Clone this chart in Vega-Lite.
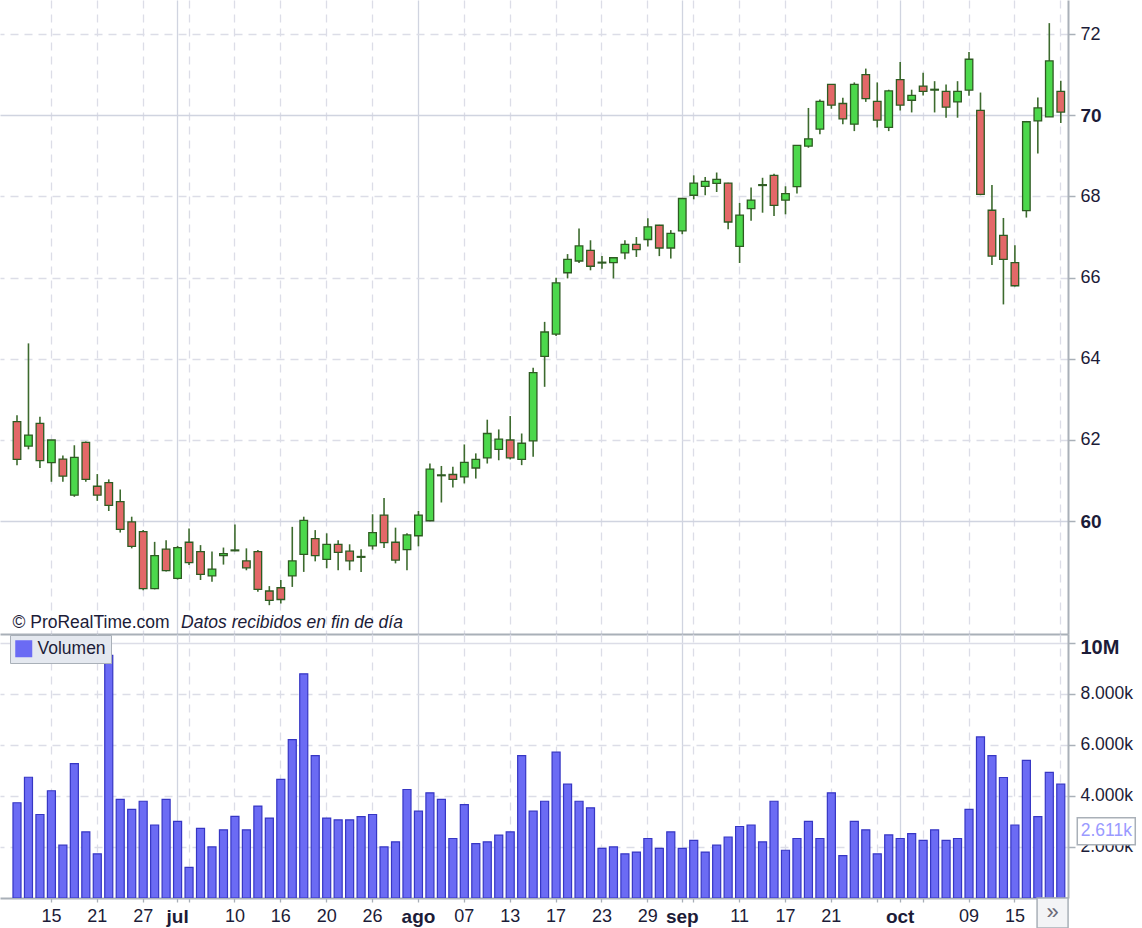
{
  "$schema": "https://vega.github.io/schema/vega-lite/v6.json",
  "padding": 0,
  "background": "white",
  "spacing": 0,
  "config": {
    "view": {"stroke": null},
    "font": "Liberation Sans",
    "axis": {"labelFont": "Liberation Sans", "labelOverlap": false, "labelBound": false}
  },
  "datasets": {
    "ohlc": [
      {"d":"2018-06-12","o":62.45,"h":62.61,"l":61.38,"c":61.52,"v":3730000},
      {"d":"2018-06-13","o":61.85,"h":64.38,"l":61.77,"c":62.12,"v":4730000},
      {"d":"2018-06-14","o":62.41,"h":62.57,"l":61.31,"c":61.49,"v":3270000},
      {"d":"2018-06-15","o":61.44,"h":62.0,"l":60.97,"c":62.0,"v":4200000},
      {"d":"2018-06-18","o":61.53,"h":61.62,"l":60.97,"c":61.11,"v":2070000},
      {"d":"2018-06-19","o":60.64,"h":61.87,"l":60.6,"c":61.57,"v":5260000},
      {"d":"2018-06-20","o":61.94,"h":61.96,"l":60.97,"c":61.03,"v":2590000},
      {"d":"2018-06-21","o":60.86,"h":61.16,"l":60.5,"c":60.64,"v":1730000},
      {"d":"2018-06-22","o":60.95,"h":61.03,"l":60.25,"c":60.39,"v":9500000},
      {"d":"2018-06-25","o":60.48,"h":60.78,"l":59.72,"c":59.8,"v":3860000},
      {"d":"2018-06-26","o":59.98,"h":60.11,"l":59.33,"c":59.38,"v":3470000},
      {"d":"2018-06-27","o":59.74,"h":59.78,"l":58.3,"c":58.34,"v":3790000},
      {"d":"2018-06-28","o":58.34,"h":59.49,"l":58.32,"c":59.15,"v":2860000},
      {"d":"2018-06-29","o":59.31,"h":59.53,"l":58.76,"c":58.78,"v":3860000},
      {"d":"2018-07-02","o":58.59,"h":59.39,"l":58.56,"c":59.35,"v":3000000},
      {"d":"2018-07-03","o":59.48,"h":59.82,"l":58.92,"c":58.98,"v":1200000},
      {"d":"2018-07-05","o":59.25,"h":59.41,"l":58.55,"c":58.69,"v":2730000},
      {"d":"2018-07-06","o":58.65,"h":59.25,"l":58.51,"c":58.82,"v":2000000},
      {"d":"2018-07-09","o":59.15,"h":59.35,"l":58.93,"c":59.2,"v":2670000},
      {"d":"2018-07-10","o":59.27,"h":59.92,"l":59.26,"c":59.29,"v":3200000},
      {"d":"2018-07-11","o":59.02,"h":59.33,"l":58.79,"c":58.85,"v":2670000},
      {"d":"2018-07-12","o":59.25,"h":59.29,"l":58.26,"c":58.32,"v":3600000},
      {"d":"2018-07-13","o":58.28,"h":58.4,"l":57.93,"c":58.05,"v":3130000},
      {"d":"2018-07-16","o":58.36,"h":58.55,"l":57.97,"c":58.07,"v":4650000},
      {"d":"2018-07-17","o":58.65,"h":59.86,"l":58.38,"c":59.02,"v":6200000},
      {"d":"2018-07-18","o":59.18,"h":60.11,"l":58.75,"c":60.02,"v":8780000},
      {"d":"2018-07-19","o":59.57,"h":59.78,"l":59.01,"c":59.15,"v":5580000},
      {"d":"2018-07-20","o":59.06,"h":59.7,"l":58.84,"c":59.43,"v":3130000},
      {"d":"2018-07-23","o":59.43,"h":59.53,"l":58.79,"c":59.23,"v":3060000},
      {"d":"2018-07-24","o":59.26,"h":59.43,"l":58.79,"c":59.02,"v":3060000},
      {"d":"2018-07-25","o":59.11,"h":59.31,"l":58.75,"c":59.13,"v":3190000},
      {"d":"2018-07-26","o":59.39,"h":60.17,"l":59.3,"c":59.72,"v":3270000},
      {"d":"2018-07-27","o":60.15,"h":60.57,"l":59.34,"c":59.47,"v":2000000},
      {"d":"2018-07-30","o":59.48,"h":59.84,"l":58.96,"c":59.04,"v":2200000},
      {"d":"2018-07-31","o":59.3,"h":59.7,"l":58.79,"c":59.66,"v":4250000},
      {"d":"2018-08-01","o":59.64,"h":60.25,"l":59.38,"c":60.15,"v":3400000},
      {"d":"2018-08-02","o":60.01,"h":61.42,"l":60.0,"c":61.28,"v":4120000},
      {"d":"2018-08-03","o":61.12,"h":61.36,"l":60.46,"c":61.14,"v":3860000},
      {"d":"2018-08-06","o":61.15,"h":61.34,"l":60.83,"c":61.03,"v":2330000},
      {"d":"2018-08-07","o":61.09,"h":61.89,"l":60.93,"c":61.45,"v":3660000},
      {"d":"2018-08-08","o":61.31,"h":61.67,"l":61.05,"c":61.52,"v":2130000},
      {"d":"2018-08-09","o":61.56,"h":62.5,"l":61.42,"c":62.16,"v":2200000},
      {"d":"2018-08-10","o":61.77,"h":62.26,"l":61.5,"c":62.02,"v":2460000},
      {"d":"2018-08-13","o":62.0,"h":62.59,"l":61.52,"c":61.56,"v":2590000},
      {"d":"2018-08-14","o":61.52,"h":62.16,"l":61.38,"c":61.92,"v":5580000},
      {"d":"2018-08-15","o":61.98,"h":63.78,"l":61.59,"c":63.66,"v":3400000},
      {"d":"2018-08-16","o":64.06,"h":64.91,"l":63.31,"c":64.66,"v":3790000},
      {"d":"2018-08-17","o":64.61,"h":66.0,"l":64.56,"c":65.87,"v":5710000},
      {"d":"2018-08-20","o":66.12,"h":66.58,"l":65.98,"c":66.45,"v":4460000},
      {"d":"2018-08-21","o":66.41,"h":67.21,"l":66.36,"c":66.78,"v":3790000},
      {"d":"2018-08-22","o":66.67,"h":66.92,"l":66.18,"c":66.28,"v":3530000},
      {"d":"2018-08-23","o":66.36,"h":66.53,"l":66.22,"c":66.38,"v":1940000},
      {"d":"2018-08-24","o":66.37,"h":66.5,"l":65.98,"c":66.49,"v":2000000},
      {"d":"2018-08-27","o":66.61,"h":66.92,"l":66.45,"c":66.82,"v":1730000},
      {"d":"2018-08-28","o":66.82,"h":67.0,"l":66.51,"c":66.69,"v":1800000},
      {"d":"2018-08-29","o":66.94,"h":67.46,"l":66.77,"c":67.25,"v":2330000},
      {"d":"2018-08-30","o":67.29,"h":67.3,"l":66.53,"c":66.73,"v":1940000},
      {"d":"2018-08-31","o":66.73,"h":67.17,"l":66.47,"c":67.09,"v":2590000},
      {"d":"2018-09-04","o":67.15,"h":67.96,"l":67.07,"c":67.95,"v":1940000},
      {"d":"2018-09-05","o":68.03,"h":68.52,"l":67.93,"c":68.33,"v":2260000},
      {"d":"2018-09-06","o":68.25,"h":68.48,"l":68.03,"c":68.37,"v":1800000},
      {"d":"2018-09-07","o":68.32,"h":68.59,"l":68.11,"c":68.42,"v":2070000},
      {"d":"2018-09-10","o":68.33,"h":68.34,"l":67.19,"c":67.37,"v":2390000},
      {"d":"2018-09-11","o":66.77,"h":67.84,"l":66.36,"c":67.54,"v":2800000},
      {"d":"2018-09-12","o":67.7,"h":68.22,"l":67.4,"c":67.91,"v":2860000},
      {"d":"2018-09-13","o":68.27,"h":68.46,"l":67.6,"c":68.29,"v":2200000},
      {"d":"2018-09-14","o":68.52,"h":68.56,"l":67.52,"c":67.78,"v":3790000},
      {"d":"2018-09-17","o":67.91,"h":68.25,"l":67.56,"c":68.07,"v":1870000},
      {"d":"2018-09-18","o":68.24,"h":69.26,"l":68.07,"c":69.26,"v":2330000},
      {"d":"2018-09-19","o":69.24,"h":70.18,"l":69.2,"c":69.42,"v":3000000},
      {"d":"2018-09-20","o":69.66,"h":70.39,"l":69.53,"c":70.34,"v":2330000},
      {"d":"2018-09-21","o":70.76,"h":70.77,"l":70.16,"c":70.25,"v":4120000},
      {"d":"2018-09-24","o":70.29,"h":70.43,"l":69.78,"c":69.91,"v":1660000},
      {"d":"2018-09-25","o":69.78,"h":70.81,"l":69.61,"c":70.76,"v":3000000},
      {"d":"2018-09-26","o":71.0,"h":71.15,"l":70.33,"c":70.41,"v":2670000},
      {"d":"2018-09-27","o":70.34,"h":70.81,"l":69.7,"c":69.88,"v":1730000},
      {"d":"2018-09-28","o":69.7,"h":70.63,"l":69.61,"c":70.6,"v":2470000},
      {"d":"2018-10-01","o":70.88,"h":71.31,"l":70.12,"c":70.25,"v":2330000},
      {"d":"2018-10-02","o":70.37,"h":70.63,"l":70.07,"c":70.49,"v":2520000},
      {"d":"2018-10-03","o":70.72,"h":71.05,"l":70.49,"c":70.59,"v":2260000},
      {"d":"2018-10-04","o":70.62,"h":70.84,"l":70.07,"c":70.64,"v":2670000},
      {"d":"2018-10-05","o":70.59,"h":70.76,"l":69.94,"c":70.2,"v":2260000},
      {"d":"2018-10-08","o":70.33,"h":70.84,"l":69.94,"c":70.59,"v":2330000},
      {"d":"2018-10-09","o":70.62,"h":71.56,"l":70.48,"c":71.38,"v":3470000},
      {"d":"2018-10-10","o":70.12,"h":70.56,"l":68.03,"c":68.05,"v":6310000},
      {"d":"2018-10-11","o":67.66,"h":68.28,"l":66.31,"c":66.53,"v":5580000},
      {"d":"2018-10-12","o":67.04,"h":67.47,"l":65.34,"c":66.45,"v":4720000},
      {"d":"2018-10-15","o":66.37,"h":66.8,"l":65.78,"c":65.8,"v":2860000},
      {"d":"2018-10-16","o":67.65,"h":69.86,"l":67.48,"c":69.84,"v":5390000},
      {"d":"2018-10-17","o":69.86,"h":70.44,"l":69.06,"c":70.18,"v":3190000},
      {"d":"2018-10-18","o":69.96,"h":72.27,"l":69.96,"c":71.34,"v":4920000},
      {"d":"2018-10-19","o":70.59,"h":70.85,"l":69.81,"c":70.08,"v":4460000}
    ]
  },
  "vconcat": [
    {
      "width": 1068,
      "height": 634,
      "data": {"name": "ohlc"},
      "layer": [
        {
          "mark": {"type": "rule", "color": "#3d6b2e", "strokeWidth": 1.6},
          "encoding": {
            "x": {
              "field": "d", "type": "ordinal",
              "scale": {"paddingInner": 0, "paddingOuter": 0.556, "align": 0.883},
              "axis": {
                "title": null, "labels": false, "ticks": false,
                "domain": true, "domainColor": "#a9b0b8", "domainWidth": 2,
                "grid": true, "bandPosition": 0.5,
                "values": ["2018-06-15","2018-06-21","2018-06-27","2018-07-02","2018-07-03","2018-07-10","2018-07-16","2018-07-20","2018-07-26","2018-08-01","2018-08-07","2018-08-13","2018-08-17","2018-08-23","2018-08-29","2018-09-04","2018-09-05","2018-09-11","2018-09-17","2018-09-21","2018-09-27","2018-10-01","2018-10-03","2018-10-09","2018-10-15","2018-10-19"],
                "gridColor": {"condition": {"test": "indexof(['2018-07-02','2018-08-01','2018-09-04','2018-10-01'], datum.value) >= 0", "value": "#d0d4e0"}, "value": "#dcdde7"},
                "gridDash": {"condition": {"test": "indexof(['2018-07-02','2018-08-01','2018-09-04','2018-10-01'], datum.value) >= 0", "value": []}, "value": [8, 6]},
                "gridWidth": 1.3
              }
            },
            "y": {
              "field": "l", "type": "quantitative",
              "scale": {"domain": [57.22, 72.84], "nice": false, "zero": false},
              "axis": {
                "orient": "right", "title": null,
                "values": [60, 62, 64, 66, 68, 70, 72],
                "domainColor": "#a9b0b8", "domainWidth": 2,
                "tickColor": "#a9b0b8", "tickSize": 7, "tickWidth": 1.5,
                "labelPadding": 5, "labelColor": "#1c1c38",
                "labelFontSize": {"condition": {"test": "datum.value % 10 == 0", "value": 19}, "value": 18},
                "labelFontWeight": {"condition": {"test": "datum.value % 10 == 0", "value": "bold"}, "value": "normal"},
                "grid": true, "gridWidth": 1.3,
                "gridColor": {"condition": {"test": "datum.value % 10 == 0", "value": "#d0d4e0"}, "value": "#dcdde7"},
                "gridDash": {"condition": {"test": "datum.value % 10 == 0", "value": []}, "value": [8, 6]}
              }
            },
            "y2": {"field": "h"}
          }
        },
        {
          "mark": {"type": "bar", "width": {"band": 0.66}, "stroke": "#2e5b22", "strokeWidth": 1.3},
          "encoding": {
            "x": {"field": "d", "type": "ordinal"},
            "y": {"field": "o", "type": "quantitative"},
            "y2": {"field": "c"},
            "fill": {"condition": {"test": "datum.c >= datum.o", "value": "#4cd84c"}, "value": "#e36868"}
          }
        },
        {
          "data": {"values": [{}]},
          "mark": {"type": "text", "text": "© ProRealTime.com", "align": "left", "baseline": "alphabetic", "fontSize": 17.5, "color": "#1c1c38", "xOffset": -4.5},
          "encoding": {
            "x": {"datum": "2018-06-12", "type": "ordinal"},
            "y": {"datum": 57.365, "type": "quantitative"}
          }
        },
        {
          "data": {"values": [{}]},
          "mark": {"type": "text", "text": "Datos recibidos en fin de día", "align": "left", "baseline": "alphabetic", "fontSize": 17.5, "fontStyle": "italic", "color": "#1c1c38", "xOffset": 3.5},
          "encoding": {
            "x": {"datum": "2018-07-02", "type": "ordinal"},
            "y": {"datum": 57.365, "type": "quantitative"}
          }
        }
      ]
    },
    {
      "width": 1068,
      "height": 264,
      "data": {"name": "ohlc"},
      "layer": [
        {
          "mark": {"type": "bar", "width": {"band": 0.7}, "stroke": "#3636c4", "strokeWidth": 1.2, "clip": true},
          "encoding": {
            "x": {
              "field": "d", "type": "ordinal",
              "scale": {"paddingInner": 0, "paddingOuter": 0.556, "align": 0.883},
              "axis": {
                "title": null, "labelAngle": 0,
                "domain": true, "domainColor": "#a9b0b8", "domainWidth": 2,
                "ticks": true, "tickColor": "#a9b0b8", "tickSize": 4, "tickWidth": 1.3,
                "labelPadding": 5, "labelColor": "#1c1c38",
                "bandPosition": 0.5,
                "values": ["2018-06-15","2018-06-21","2018-06-27","2018-07-02","2018-07-03","2018-07-10","2018-07-16","2018-07-20","2018-07-26","2018-08-01","2018-08-07","2018-08-13","2018-08-17","2018-08-23","2018-08-29","2018-09-04","2018-09-05","2018-09-11","2018-09-17","2018-09-21","2018-09-27","2018-10-01","2018-10-03","2018-10-09","2018-10-15","2018-10-19"],
                "labelExpr": "indexof(['2018-07-02','2018-08-01','2018-09-04','2018-10-01'], datum.value) >= 0 ? ['jul','ago','sep','oct'][indexof(['2018-07-02','2018-08-01','2018-09-04','2018-10-01'], datum.value)] : (indexof(['2018-07-03','2018-09-05','2018-09-27','2018-10-03','2018-10-19'], datum.value) >= 0 ? '' : substring(datum.value, 8, 10))",
                "labelFontSize": {"condition": {"test": "indexof(['2018-07-02','2018-08-01','2018-09-04','2018-10-01'], datum.value) >= 0", "value": 19}, "value": 18},
                "labelFontWeight": {"condition": {"test": "indexof(['2018-07-02','2018-08-01','2018-09-04','2018-10-01'], datum.value) >= 0", "value": "bold"}, "value": "normal"},
                "grid": true, "gridWidth": 1.3,
                "gridColor": {"condition": {"test": "indexof(['2018-07-02','2018-08-01','2018-09-04','2018-10-01'], datum.value) >= 0", "value": "#d0d4e0"}, "value": "#dcdde7"},
                "gridDash": {"condition": {"test": "indexof(['2018-07-02','2018-08-01','2018-09-04','2018-10-01'], datum.value) >= 0", "value": []}, "value": [8, 6]}
              }
            },
            "y": {
              "field": "v", "type": "quantitative",
              "scale": {"domain": [0, 10340000], "nice": false},
              "axis": {
                "orient": "right", "title": null, "labelOverlap": false,
                "values": [2000000, 4000000, 6000000, 8000000, 10000000],
                "labelExpr": "datum.value > 9999999 ? '10M' : (datum.value / 1000000) + '.000k'",
                "domainColor": "#a9b0b8", "domainWidth": 2,
                "tickColor": "#a9b0b8", "tickSize": 7, "tickWidth": 1.5,
                "labelPadding": 5, "labelColor": "#1c1c38",
                "labelFontSize": {"condition": {"test": "datum.value > 9999999", "value": 20}, "value": 17.5},
                "labelFontWeight": {"condition": {"test": "datum.value > 9999999", "value": "bold"}, "value": "normal"},
                "labelOffset": {"condition": {"test": "datum.value > 9999999", "value": 5}, "value": 0},
                "grid": true, "gridWidth": 1.3,
                "gridColor": "#dcdde7",
                "gridDash": {"condition": {"test": "datum.value > 9999999", "value": []}, "value": [8, 6]}
              }
            },
            "color": {
              "datum": "Volumen", "type": "nominal",
              "scale": {"range": ["#6b6bf4"]},
              "legend": {
                "title": null, "orient": "none", "legendX": 10, "legendY": 635,
                "fillColor": "#e4e8ef", "strokeColor": "#a9b0b8", "padding": 5,
                "symbolType": "square", "symbolSize": 289, "symbolStrokeWidth": 0,
                "labelFontSize": 17.5, "labelColor": "#1c1c38", "labelOffset": 5, "labelFont": "Liberation Sans"
              }
            }
          }
        },
        {
          "data": {"values": [{}]},
          "mark": {"type": "point", "shape": "M-1,-0.466L1,-0.466L1,0.466L-1,0.466Z", "size": 3364, "filled": true, "fill": "white", "stroke": "#a9b0b8", "strokeWidth": 1.5, "opacity": 1, "xOffset": 45.5},
          "encoding": {
            "x": {"datum": "2018-10-19", "type": "ordinal"},
            "y": {"datum": 2611000, "type": "quantitative"}
          }
        },
        {
          "data": {"values": [{}]},
          "mark": {"type": "text", "text": "2.611k", "align": "center", "baseline": "middle", "fontSize": 17.5, "color": "#9a9aff", "xOffset": 45.5},
          "encoding": {
            "x": {"datum": "2018-10-19", "type": "ordinal"},
            "y": {"datum": 2611000, "type": "quantitative"}
          }
        },
        {
          "data": {"values": [{}]},
          "mark": {"type": "point", "shape": "M-1,-0.968L1,-0.968L1,0.968L-1,0.968Z", "size": 961, "filled": true, "fill": "#f3f4f6", "stroke": "#a9b0b8", "strokeWidth": 1.5, "opacity": 1, "xOffset": -8.2, "yOffset": 15},
          "encoding": {
            "x": {"datum": "2018-10-19", "type": "ordinal"},
            "y": {"datum": 0, "type": "quantitative"}
          }
        },
        {
          "data": {"values": [{}]},
          "mark": {"type": "text", "text": "»", "align": "center", "baseline": "middle", "fontSize": 22, "color": "#6a6a78", "xOffset": -8.2, "yOffset": 14},
          "encoding": {
            "x": {"datum": "2018-10-19", "type": "ordinal"},
            "y": {"datum": 0, "type": "quantitative"}
          }
        }
      ]
    }
  ]
}
